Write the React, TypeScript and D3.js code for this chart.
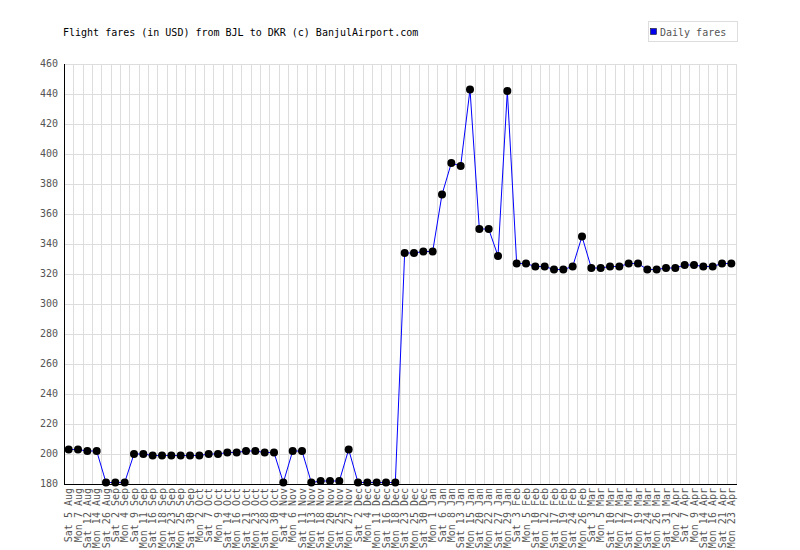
import React from 'react';
import * as d3 from 'd3';

const dates: string[] = [
  'Sat 5 Aug', 'Mon 7 Aug', 'Sat 12 Aug', 'Mon 14 Aug', 'Sat 26 Aug', 'Sat 2 Sep',
  'Mon 4 Sep', 'Sat 9 Sep', 'Mon 11 Sep', 'Sat 16 Sep', 'Mon 18 Sep', 'Sat 23 Sep',
  'Mon 25 Sep', 'Sat 30 Sep', 'Mon 2 Oct', 'Sat 7 Oct', 'Mon 9 Oct', 'Sat 14 Oct',
  'Mon 16 Oct', 'Sat 21 Oct', 'Mon 23 Oct', 'Sat 28 Oct', 'Mon 30 Oct', 'Sat 4 Nov',
  'Mon 6 Nov', 'Sat 11 Nov', 'Mon 13 Nov', 'Sat 18 Nov', 'Mon 20 Nov', 'Sat 25 Nov',
  'Mon 27 Nov', 'Sat 2 Dec', 'Mon 4 Dec', 'Mon 11 Dec', 'Sat 16 Dec', 'Mon 18 Dec',
  'Sat 23 Dec', 'Mon 25 Dec', 'Sat 30 Dec', 'Mon 1 Jan', 'Sat 6 Jan', 'Mon 8 Jan',
  'Sat 13 Jan', 'Mon 15 Jan', 'Sat 20 Jan', 'Mon 22 Jan', 'Sat 27 Jan', 'Mon 29 Jan',
  'Sat 3 Feb', 'Mon 5 Feb', 'Sat 10 Feb', 'Mon 12 Feb', 'Sat 17 Feb', 'Mon 19 Feb',
  'Sat 24 Feb', 'Mon 26 Feb', 'Sat 3 Mar', 'Mon 5 Mar', 'Sat 10 Mar', 'Mon 12 Mar',
  'Sat 17 Mar', 'Mon 19 Mar', 'Sat 24 Mar', 'Mon 26 Mar', 'Sat 31 Mar', 'Mon 2 Apr',
  'Sat 7 Apr', 'Mon 9 Apr', 'Sat 14 Apr', 'Mon 16 Apr', 'Sat 21 Apr', 'Mon 23 Apr',
];

const fares: number[] = [
  203, 203, 202, 202, 181, 181, 181, 200, 200, 199, 199, 199,
  199, 199, 199, 200, 200, 201, 201, 202, 202, 201, 201, 181,
  202, 202, 181, 182, 182, 182, 203, 181, 181, 181, 181, 181,
  334, 334, 335, 335, 373, 394, 392, 443, 350, 350, 332, 442,
  327, 327, 325, 325, 323, 323, 325, 345, 324, 324, 325, 325,
  327, 327, 323, 323, 324, 324, 326, 326, 325, 325, 327, 327,
];

const yTicks: number[] = [180, 200, 220, 240, 260, 280, 300, 320, 340, 360, 380, 400, 420, 440, 460];

const title = 'Flight fares (in USD) from BJL to DKR (c) BanjulAirport.com';
const legendLabel = 'Daily fares';

const W = 800;
const H = 550;
const margin = { left: 64, right: 64, top: 64, bottom: 66 };
const font = '"DejaVu Sans Mono", monospace';

export default function App() {
  const x = d3.scaleBand<string>()
    .domain(dates)
    .range([margin.left, W - margin.right]);
  const y = d3.scaleLinear()
    .domain([180, 460])
    .range([H - margin.bottom, margin.top]);

  const cx = (d: string) => (x(d) ?? 0) + x.bandwidth() / 2;
  const line = d3.line<number>()
    .x((_, i) => cx(dates[i]))
    .y(v => y(v));

  const plotL = margin.left;
  const plotR = W - margin.right;
  const plotT = margin.top;
  const plotB = H - margin.bottom;

  return (
    <svg
      width={W}
      height={H}
      style={{ position: 'absolute', left: 0, top: 0, background: '#fff' }}
      fontFamily={font}
    >
      <rect x={0} y={0} width={W} height={H} fill="#fff" />
      <text x={63} y={36} fontSize={10} fill="#000">{title}</text>

      {/* legend */}
      <rect x={648.5} y={21.5} width={89} height={20} fill="#fff" stroke="#ddd" />
      <rect x={650.5} y={28.5} width={6} height={6} fill="#0000ee" stroke="#000" strokeWidth={0.5} />
      <text x={660} y={36} fontSize={10} fill="#555">{legendLabel}</text>

      {/* grid */}
      {yTicks.map(t => (
        <line key={'h' + t} x1={plotL} x2={plotR} y1={Math.round(y(t)) + 0.5} y2={Math.round(y(t)) + 0.5} stroke="#ddd" />
      ))}
      {dates.map((d, i) => {
        const gx = Math.round((x(d) ?? 0) + x.bandwidth()) + 0.5;
        return <line key={'v' + i} x1={gx} x2={gx} y1={plotT} y2={plotB} stroke="#ddd" />;
      })}

      {/* axes */}
      <line x1={plotL + 0.5} x2={plotL + 0.5} y1={plotT} y2={plotB + 1} stroke="#000" />
      <line x1={plotL} x2={plotR + 1} y1={plotB + 0.5} y2={plotB + 0.5} stroke="#000" />

      {yTicks.map(t => (
        <text key={'yl' + t} x={plotL - 6} y={y(t) + 3} fontSize={10} textAnchor="end" fill="#555">{t}</text>
      ))}
      {dates.map((d, i) => (
        <text
          key={'xl' + i}
          transform={`translate(${cx(d) + 3.5},${plotB + 4}) rotate(-90)`}
          fontSize={10}
          textAnchor="end"
          fill="#555"
        >{d}</text>
      ))}

      {/* series */}
      <path d={line(fares) ?? ''} fill="none" stroke="#0000ff" strokeWidth={1} />
      {fares.map((v, i) => (
        <circle key={'p' + i} cx={cx(dates[i])} cy={y(v)} r={4} fill="#000" />
      ))}
    </svg>
  );
}
